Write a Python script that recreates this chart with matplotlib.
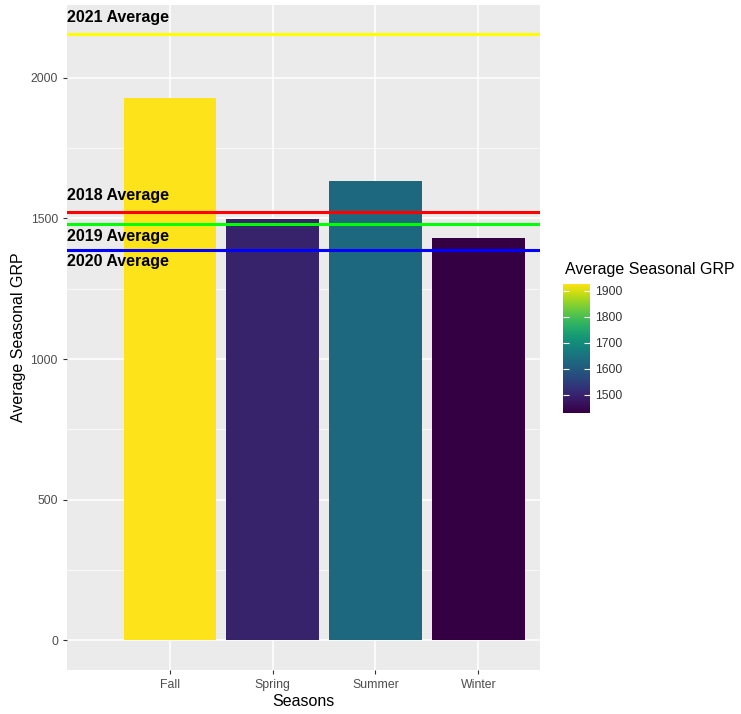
import numpy as np
import matplotlib
matplotlib.use("Agg")
import matplotlib.pyplot as plt
from matplotlib.colors import Normalize, ListedColormap

plt.rcParams['font.family'] = ['Liberation Sans', 'DejaVu Sans']

# data
seasons = ["Fall", "Spring", "Summer", "Winter"]
avg_grp = [1926, 1497, 1631, 1431]

year_labels = ["2018 Average", "2019 Average", "2020 Average", "2021 Average"]
year_avgs = [1521, 1479, 1387, 2156]
year_colors = ["#FF0000", "#00FF00", "#0000FF", "#FFFF00"]
label_y = [1582, 1436, 1348, 2213]

x = np.arange(len(seasons))
norm = Normalize(vmin=min(avg_grp), vmax=max(avg_grp))
# viridis, slightly darkened to match the reference rendering
base = plt.get_cmap("viridis")(np.linspace(0, 1, 256))
base[:, :3] = base[:, :3] ** 1.2
cmap = ListedColormap(base)

fig = plt.figure(figsize=(7.41, 7.14), dpi=100)
ax = fig.add_axes([0.0904, 0.0616, 0.6383, 0.9314])
ax.set_facecolor("#EBEBEB")

ax.bar(x, avg_grp, width=0.9, color=cmap(norm(np.array(avg_grp))), zorder=3)

for yv, c in zip(year_avgs, year_colors):
    ax.axhline(yv, color=c, lw=2.2, zorder=4)
for lab, ly in zip(year_labels, label_y):
    ax.text(-1.0, ly, lab, ha="left", va="center", fontsize=11.5,
            fontweight="bold", color="black", zorder=5)

ax.set_xlim(-1.0, 3.6)
ax.set_ylim(-105, 2258)
ax.set_xticks(x)
ax.set_xticklabels(seasons)
ax.set_yticks([0, 500, 1000, 1500, 2000])
ax.set_yticks([250, 750, 1250, 1750], minor=True)

ax.grid(which="major", color="white", lw=1.1, zorder=0)
ax.grid(which="minor", axis="y", color="white", lw=0.5, zorder=0)
ax.set_axisbelow(True)
for s in ax.spines.values():
    s.set_visible(False)
ax.tick_params(which="major", length=3, color="#333333", labelcolor="#4D4D4D",
               labelsize=8.8, width=0.8)
ax.tick_params(which="minor", length=0)

ax.set_xlabel("Seasons", fontsize=11.5, labelpad=2)
ax.set_ylabel("Average Seasonal GRP", fontsize=11.5, labelpad=3)

# colour bar legend
cax = fig.add_axes([0.760, 0.4216, 0.0364, 0.1807])
sm = plt.cm.ScalarMappable(norm=norm, cmap=cmap)
cb = fig.colorbar(sm, cax=cax, ticks=[1500, 1600, 1700, 1800, 1900])
cb.outline.set_visible(False)
cax.tick_params(left=True, right=True, direction="in", color="white",
                length=4, width=0.8, labelsize=8.8, labelcolor="#333333")
fig.text(0.762, 0.622, "Average Seasonal GRP", fontsize=11.5, ha="left", va="center")

fig.savefig("out.png", dpi=100)
